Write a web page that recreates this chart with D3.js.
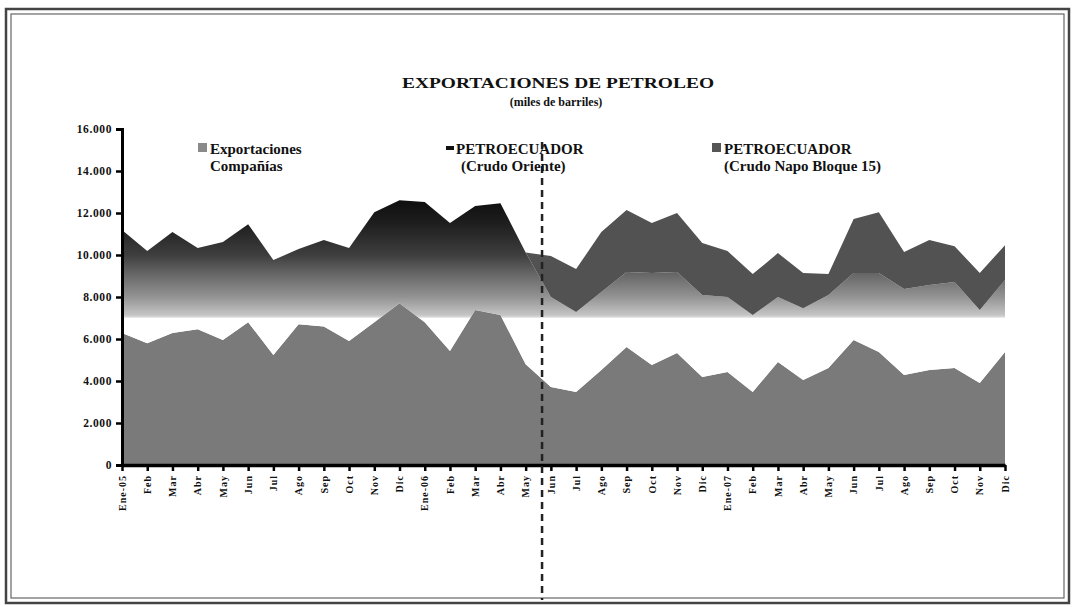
<!DOCTYPE html>
<html>
<head>
<meta charset="utf-8">
<script src="https://cdn.jsdelivr.net/npm/d3@7"></script>
<style>
  body { margin: 0; background: #fff; }
  text { font-family: "Liberation Serif", "DejaVu Serif", serif; font-weight: bold; fill: #111; }
</style>
</head>
<body>
<div id="container"></div>
<script>
// months, Ene-05 .. Dic-07
const months = ["Ene-05","Feb","Mar","Abr","May","Jun","Jul","Ago","Sep","Oct","Nov","Dic",
                "Ene-06","Feb","Mar","Abr","May","Jun","Jul","Ago","Sep","Oct","Nov","Dic",
                "Ene-07","Feb","Mar","Abr","May","Jun","Jul","Ago","Sep","Oct","Nov","Dic"];

// miles de barriles
const companias = [6280,5800,6280,6470,5950,6800,5240,6700,6600,5900,6800,7700,
                   6800,5430,7380,7140,4800,3710,3480,4520,5620,4760,5330,4190,
                   4430,3480,4900,4050,4620,5950,5380,4290,4520,4620,3900,5380];
const oriente   = [4910,4390,4820,3860,4670,4670,4520,3580,4110,4430,5240,4910,
                   5720,6090,4950,5330,5320,4290,3810,3720,3570,4380,3860,3900,
                   3570,3660,3100,3420,3470,3190,3760,4090,4050,4090,3480,3430];
const napo      = [0,0,0,0,0,0,0,0,0,0,0,0,
                   0,0,0,0,0,1950,2040,2850,2950,2380,2810,2480,
                   2190,1950,2090,1670,1000,2570,2900,1760,2140,1710,1760,1660];

const yTicks = [0,2000,4000,6000,8000,10000,12000,14000,16000];
const seriesKeys = ["companias","oriente","napo"];
const legendLabels = [["Exportaciones","Compañías"],["PETROECUADOR","(Crudo Oriente)"],["PETROECUADOR","(Crudo Napo Bloque 15)"]];

const width = 1075, height = 607;
const rows = months.map((m, i) => ({ i, companias: companias[i], oriente: oriente[i], napo: napo[i] }));

const svg = d3.select("#container").append("svg")
    .attr("width", width).attr("height", height);

// double frame
svg.append("rect").attr("x", 6).attr("y", 9).attr("width", 1063).attr("height", 594)
    .attr("fill", "none").attr("stroke", "#444").attr("stroke-width", 2.5);
svg.append("rect").attr("x", 11).attr("y", 14).attr("width", 1053).attr("height", 584)
    .attr("fill", "none").attr("stroke", "#666").attr("stroke-width", 1.2);

const x = d3.scalePoint().domain(d3.range(months.length)).range([122, 1005]);
const y = d3.scaleLinear().domain([0, 16000]).range([465, 129]);

// gradient for Crudo Oriente
const defs = svg.append("defs");
const grad = defs.append("linearGradient").attr("id", "gOriente")
    .attr("gradientUnits", "userSpaceOnUse")
    .attr("x1", 0).attr("x2", 0).attr("y1", y(12800)).attr("y2", y(6000));
const y0 = y(12800), y1 = y(6000);
const off = v => (y(v) - y0) / (y1 - y0);
[[12800, "#0c0c0c"], [11500, "#1e1e1e"], [10000, "#3e3e3e"], [9000, "#6a6a6a"],
 [8000, "#939393"], [7150, "#c4c4c4"], [7050, "#d8d8d8"], [6980, "#ffffff"], [6000, "#ffffff"]]
  .forEach(([v, c]) => grad.append("stop").attr("offset", off(v)).attr("stop-color", c));

const fills = { companias: "#7a7a7a", oriente: "url(#gOriente)", napo: "#525252" };

const stacked = d3.stack().keys(seriesKeys)(rows);
const area = d3.area()
    .x(d => x(d.data.i))
    .y0(d => y(d[0]))
    .y1(d => y(d[1]));

svg.append("g").selectAll("path").data(stacked).enter().append("path")
    .attr("d", area)
    .attr("fill", d => fills[d.key]);

// y axis
const yAxis = svg.append("g").attr("transform", "translate(122,0)")
    .call(d3.axisLeft(y).tickValues(yTicks).tickSize(6).tickPadding(4)
      .tickFormat(d => d3.format(",")(d).replace(/,/g, ".")));
yAxis.select(".domain").attr("stroke", "#000").attr("stroke-width", 3);
yAxis.selectAll(".tick line").attr("stroke", "#000").attr("stroke-width", 2.5);
yAxis.selectAll(".tick text").style("font-size", "11.5px").style("letter-spacing", "0.6px")
    .style("font-family", "Liberation Serif").style("font-weight", "bold").attr("fill", "#111");

// x axis
const xAxis = svg.append("g").attr("transform", "translate(0,465)")
    .call(d3.axisBottom(x).tickSize(6).tickSizeOuter(0).tickFormat(i => months[i]));
xAxis.select(".domain").attr("stroke", "#000").attr("stroke-width", 3.5);
xAxis.selectAll(".tick line").attr("stroke", "#000").attr("stroke-width", 2.5);
xAxis.selectAll(".tick text")
    .attr("transform", "rotate(-90)")
    .attr("text-anchor", "end")
    .attr("x", -10).attr("y", 0).attr("dy", "0.32em")
    .style("font-size", "10px").style("letter-spacing", "1px")
    .style("font-family", "Liberation Serif").style("font-weight", "bold").attr("fill", "#222");

// dashed divider between May-06 and Jun-06
const dx = x(16) + 0.65 * x.step();
svg.append("line")
    .attr("x1", dx).attr("x2", dx)
    .attr("y1", 142).attr("y2", 600)
    .attr("stroke", "#222").attr("stroke-width", 2.5).attr("stroke-dasharray", "7,5");

// title
svg.append("text").attr("x", 558).attr("y", 88).attr("text-anchor", "middle")
    .attr("textLength", 312).attr("lengthAdjust", "spacingAndGlyphs")
    .style("font-size", "15px").text("EXPORTACIONES DE PETROLEO");
svg.append("text").attr("x", 556).attr("y", 106).attr("text-anchor", "middle")
    .style("font-size", "12px").text("(miles de barriles)");

// legend
const legendX = [198, 444, 712];
const legend = svg.append("g");
legendLabels.forEach((lab, k) => {
  const lx = legendX[k];
  if (k === 1) {
    legend.append("rect").attr("x", lx + 2).attr("y", 146).attr("width", 8).attr("height", 4).attr("fill", "#111");
  } else {
    legend.append("rect").attr("x", lx).attr("y", 143).attr("width", 9).attr("height", 9)
      .attr("fill", k === 0 ? "#8a8a8a" : "#555");
  }
  legend.append("text").attr("x", lx + 12).attr("y", 154).style("font-size", "15px").text(lab[0]);
  legend.append("text").attr("x", lx + (k === 1 ? 17 : 12)).attr("y", 171).style("font-size", "15px").text(lab[1]);
});
</script>
</body>
</html>
